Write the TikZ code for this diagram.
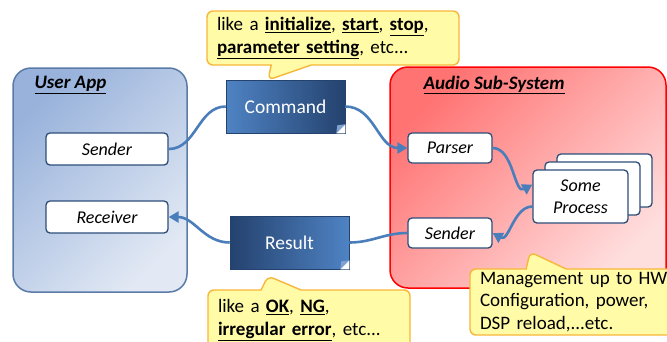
\documentclass[tikz,border=0pt]{standalone}
\usepackage{fontspec}
\setmainfont{Carlito}
\usetikzlibrary{arrows.meta,shapes.callouts}

\definecolor{linkblue}{HTML}{4A7EBB}
\definecolor{boxline}{HTML}{2E4E7A}
\definecolor{appline}{HTML}{5A7BA8}
\definecolor{appdark}{HTML}{98B2DB}
\definecolor{applight}{HTML}{E2E9F4}
\definecolor{sysdark}{HTML}{FF7373}
\definecolor{syslight}{HTML}{FFDEDE}
\definecolor{msglight}{HTML}{4F83C4}
\definecolor{msgdark}{HTML}{24426E}
\definecolor{msgfold}{HTML}{7FA2D2}
\definecolor{notefill}{HTML}{FFFBA6}
\definecolor{noteline}{HTML}{F7B73A}

\tikzset{
  groupbox/.style={rounded corners=18pt, line width=1.5pt},
  grouptitle/.style={anchor=west, font=\bfseries\itshape\fontsize{19}{21}\selectfont},
  itembox/.style={draw=boxline, fill=white, line width=1.3pt, rounded corners=4pt,
    font=\itshape\fontsize{18}{22}\selectfont, inner sep=0pt},
  msgbox/.style={minimum width=119pt, minimum height=53pt, text=white, draw=msgdark,
    line width=0.6pt, font=\fontsize{19.5}{21}\selectfont, shading=axis},
  notebox/.style={rectangle callout, draw=noteline, fill=notefill, line width=1.4pt,
    rounded corners=6pt, align=left, font=\fontsize{19}{23}\selectfont,
    inner xsep=10pt, inner ysep=0pt, callout pointer width=40pt},
  linkline/.style={draw=linkblue, line width=2.6pt},
  arrowed/.style={-{Triangle[length=10pt,width=11pt]}}
}

\begin{document}
\begin{tikzpicture}[x=1pt,y=-1pt]
  \clip (0,0) rectangle (667,341);
  \fill[white] (0,0) rectangle (667,341);

  % groups
  \draw[groupbox, draw=appline, top color=appdark, bottom color=applight, shading angle=45]
    (13,68) rectangle (187,292);
  \node[grouptitle] (appTitle) at (31,85) {\underline{User App}};
  \draw[groupbox, draw=red, top color=sysdark, bottom color=syslight, shading angle=45]
    (390,67) rectangle (666,288);
  \node[grouptitle] (sysTitle) at (420,85) {\underline{Audio Sub-System}};

  % user app side
  \node[itembox, minimum width=122pt, minimum height=32pt] (appSnd) at (107,149) {Sender};
  \node[itembox, minimum width=122pt, minimum height=32pt] (appRcv) at (107,217) {Receiver};

  % sub-system side
  \node[itembox, minimum width=84pt, minimum height=30pt] (parser) at (450,148) {Parser};
  \node[itembox, minimum width=84pt, minimum height=30pt] (sysSnd) at (450,233) {Sender};
  \node[itembox, minimum width=95pt, minimum height=53pt] (procC) at (604.5,180.5) {};
  \node[itembox, minimum width=95pt, minimum height=53pt] (procB) at (592.5,188.5) {};
  \node[itembox, minimum width=95pt, minimum height=53pt, align=center] (proc) at (580.5,196.5)
    {Some\\Process};

  % messages
  \node[msgbox, left color=msglight, right color=msgdark] (cmd) at (285.5,106.5) {Command};
  \node[msgbox, left color=msgdark, right color=msglight] (res) at (289.5,242.5) {Result};
  \foreach \m in {cmd,res} {
    \fill[white] ([xshift=-9pt]\m.south east) -- (\m.south east) -- ([yshift=9pt]\m.south east) -- cycle;
    \fill[msgfold] ([xshift=-9pt]\m.south east) -- ([yshift=9pt]\m.south east)
      -- ([xshift=-8pt,yshift=8pt]\m.south east) -- cycle;
  }

  % connectors
  \draw[linkline] (appSnd.east) to[out=0,in=180] (cmd.west);
  \draw[linkline, arrowed] (cmd.east) to[out=0,in=180] (parser.west);
  \draw[linkline, arrowed] (parser.east) to[out=0,in=210] ([yshift=12pt]proc.west);
  \draw[linkline, arrowed] ([yshift=-10pt]proc.west) to[out=180,in=330] (sysSnd.east);
  \draw[linkline] (sysSnd.west) to[out=180,in=0] (res.east);
  \draw[linkline, arrowed] (res.west) to[out=180,in=0] (appRcv.east);

  % notes
  \node[notebox, text width=232pt, minimum height=54pt, callout absolute pointer={(268,80)}]
    (cmdNote) at (333,38)
    {like a \underline{\textbf{initialize}}, \underline{\textbf{start}}, \underline{\textbf{stop}},\\
     \underline{\textbf{parameter setting}}, etc...};
  \node[notebox, text width=182pt, minimum height=60pt, callout absolute pointer={(268,276)}]
    (resNote) at (309,320)
    {like a \underline{\textbf{OK}}, \underline{\textbf{NG}},\\
     \underline{\textbf{irregular error}}, etc...};
  \node[notebox, text width=195pt, minimum height=66pt, font=\fontsize{19}{22.5}\selectfont,
    callout absolute pointer={(530,252)}]
    (sysNote) at (577.5,302)
    {Management up to HW\\ Configuration, power,\\ DSP reload,...etc.};
\end{tikzpicture}
\end{document}
